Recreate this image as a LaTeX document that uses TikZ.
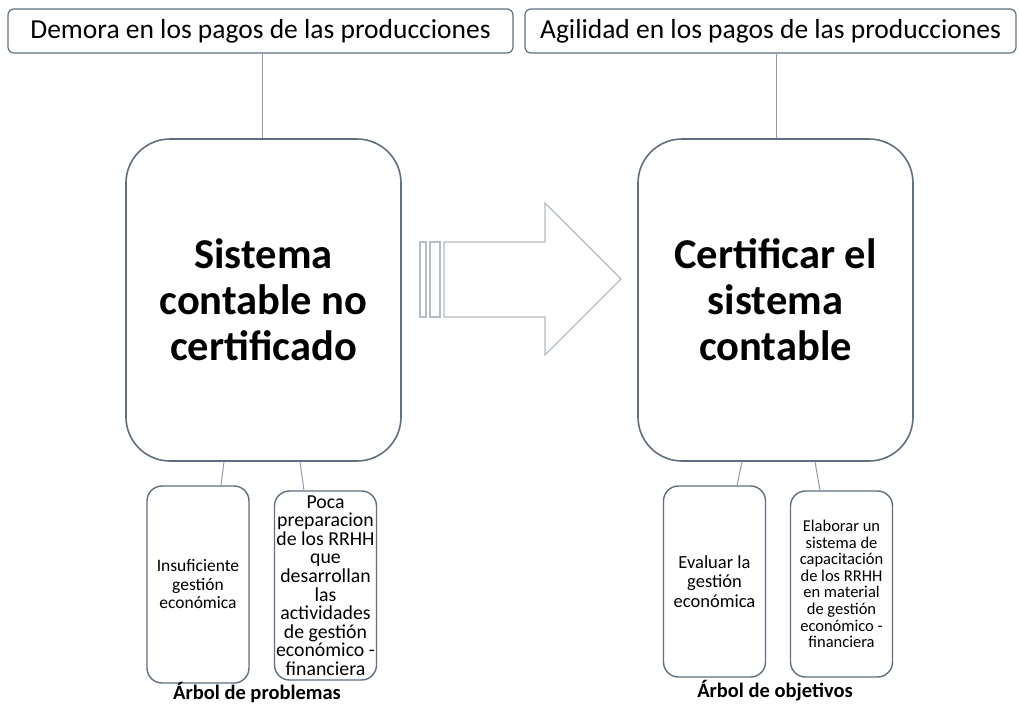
\documentclass[tikz,border=0pt]{standalone}
\usepackage{fontspec}
\setmainfont{Carlito}
\usetikzlibrary{calc}
\definecolor{boxline}{HTML}{5F6F80}
\definecolor{conline}{HTML}{8C9CAC}
\definecolor{arrline}{HTML}{B4BCC4}
\tikzset{
  topbox/.style={draw=boxline, line width=1.2pt, rounded corners=6pt, fill=white, inner sep=0pt,
     font=\fontsize{27.5}{32}\selectfont},
  bigbox/.style={draw=boxline, line width=1.6pt, rounded corners=44pt, fill=white, inner sep=0pt,
     minimum width=275pt, minimum height=322pt, align=center,
     font=\fontsize{42.5}{46}\selectfont\bfseries},
  smallbox/.style={draw=boxline, line width=1.4pt, rounded corners=15pt, fill=white, inner sep=0pt,
     minimum width=102pt, align=center},
  conn/.style={draw=conline, line width=1pt},
  arrowpart/.style={draw=arrline, line width=1.1pt, fill=white},
  caption/.style={font=\fontsize{20.5}{24}\selectfont\bfseries, inner sep=0pt}
}
\begin{document}
\begin{tikzpicture}[x=1pt,y=-1pt]
\useasboundingbox[fill=white] (0,0) rectangle (1019,704);
% top boxes
\node[topbox, minimum width=505pt, minimum height=44pt] (tl) at (260.5,31) {Demora en los pagos de las producciones};
\node[topbox, minimum width=491pt, minimum height=44pt] (tr) at (770.5,31) {Agilidad en los pagos de las producciones};
% big boxes
\node[bigbox] (bl) at (263.5,300) {Sistema\\contable no\\certificado};
\node[bigbox] (br) at (775.5,300) {Certificar el\\sistema\\contable};
% connectors top
\draw[conn] (tl.south -| 262,0) -- (bl.north -| 262,0);
\draw[conn] (tr.south -| 776,0) -- (br.north -| 776,0);
% small boxes
\node[smallbox, minimum height=197pt, font=\fontsize{17.5}{18.5}\selectfont] (s1) at (198,584.5) {Insuficiente\\gestión\\económica};
\node[smallbox, minimum height=189pt, font=\fontsize{19.8}{18.6}\selectfont] (s2) at (325.5,585.5) {Poca\\preparacion\\de los RRHH\\que\\desarrollan\\las\\actividades\\de gestión\\económico -\\financiera};
\node[smallbox, minimum height=191pt, font=\fontsize{18.5}{19.2}\selectfont] (s3) at (714.5,581.5) {Evaluar la\\gestión\\económica};
\node[smallbox, minimum height=186pt, font=\fontsize{16.5}{16.6}\selectfont] (s4) at (841.5,584) {Elaborar un\\sistema de\\capacitación\\de los RRHH\\en material\\de gestión\\económico -\\financiera};
% connectors bottom
\draw[conn] (bl.south -| 224,0) -- (s1.north -| 221,0);
\draw[conn] (bl.south -| 300,0) -- (s2.north -| 304,0);
\draw[conn] (br.south -| 742,0) -- (s3.north -| 737,0);
\draw[conn] (br.south -| 815,0) -- (s4.north -| 820,0);
% captions
\node[caption] (c1) at (257,692) {Árbol de problemas};
\node[caption] (c2) at (775,691) {Árbol de objetivos};
% striped arrow
\draw[arrowpart] (420,242) rectangle (426,317);
\draw[arrowpart] (430,242) rectangle (440,317);
\draw[arrowpart, line join=miter] (444,242) -- (545,242) -- (545,203) -- (621,279) -- (545,355) -- (545,317) -- (444,317) -- cycle;
\end{tikzpicture}
\end{document}
